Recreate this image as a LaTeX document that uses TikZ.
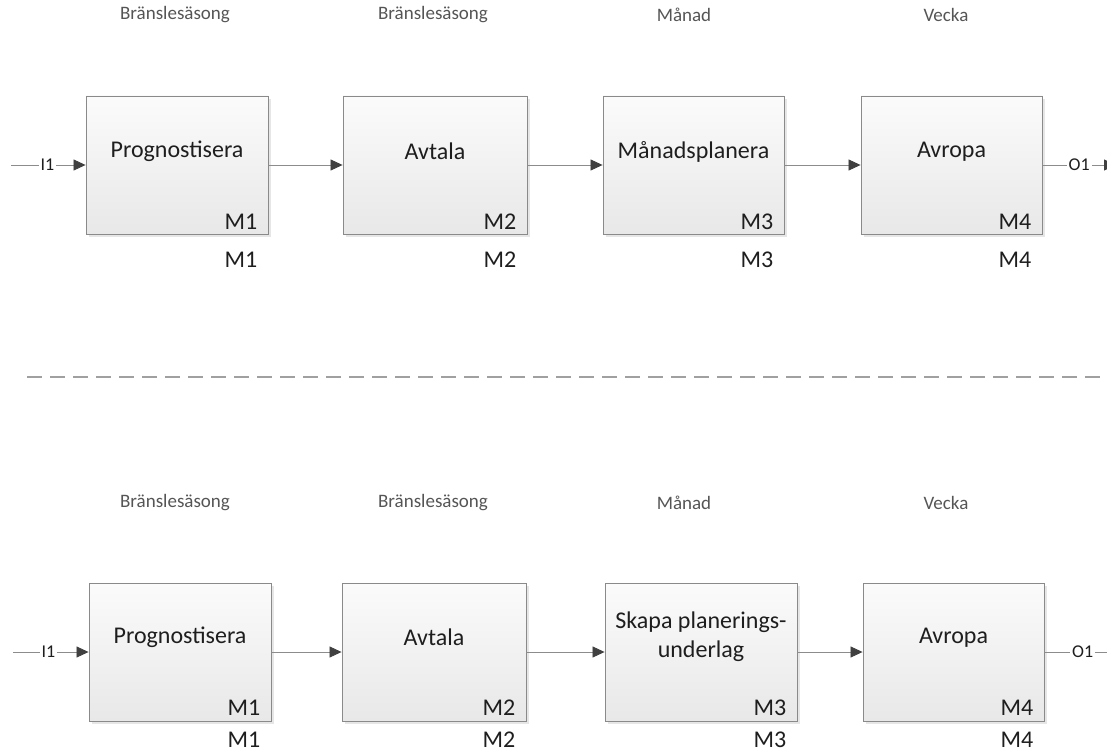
\documentclass[tikz,border=0pt]{standalone}
\usepackage{fontspec}
\setmainfont{Carlito}
\usetikzlibrary{arrows.meta,shadows,positioning}

\definecolor{boxline}{HTML}{8A8A8A}
\definecolor{boxtop}{HTML}{FBFBFB}
\definecolor{boxbottom}{HTML}{E8E8E8}
\definecolor{flowline}{HTML}{8C8C8C}
\definecolor{tipfill}{HTML}{404040}
\definecolor{headtext}{HTML}{555555}
\definecolor{maintext}{HTML}{1E1E1E}
\definecolor{sepline}{HTML}{A0A0A0}

\tikzset{
  procbox/.style={rectangle, draw=boxline, line width=0.9pt,
    top color=boxtop, bottom color=boxbottom, minimum height=138pt,
    inner sep=0pt,
    drop shadow={shadow xshift=3pt, shadow yshift=-3pt, fill=black!12, opacity=0.8}},
  proctitle/.style={font=\fontsize{24}{29}\selectfont, text=maintext, align=center, inner sep=0pt},
  mlabel/.style={font=\fontsize{24}{26}\selectfont, text=maintext, inner sep=0pt, anchor=east},
  headlabel/.style={font=\fontsize{19}{22}\selectfont, text=headtext, inner sep=0pt},
  flow/.style={draw=flowline, line width=0.8pt,
    -{Triangle[length=12pt,width=11pt,color=tipfill]}},
  plainflow/.style={draw=flowline, line width=0.8pt},
  portlabel/.style={font=\fontsize{18}{20}\selectfont, text=maintext, fill=white, inner xsep=2pt, inner ysep=1pt},
}

\begin{document}
\begin{tikzpicture}[x=1pt, y=-1pt]
  \path[use as bounding box] (0,0) rectangle (1107,754);
  \clip (0,0) rectangle (1107,754);

  % ---------- upper chain ----------
  \node[headlabel] (h1) at (175,15) {Bränslesäsong};
  \node[headlabel] (h2) at (433,15) {Bränslesäsong};
  \node[headlabel] (h3) at (684,15) {Månad};
  \node[headlabel] (h4) at (946,15) {Vecka};

  \node[procbox, minimum width=182pt] (a1) at (177,165) {};
  \node[procbox, minimum width=184pt] (a2) at (435,165) {};
  \node[procbox, minimum width=181pt] (a3) at (693.5,165) {};
  \node[procbox, minimum width=181pt] (a4) at (951.5,165) {};

  \node[proctitle] (ta1) at ([yshift=-56pt]a1.north) {Prognostisera};
  \node[proctitle] (ta2) at ([yshift=-56pt]a2.north) {Avtala};
  \node[proctitle] (ta3) at ([yshift=-56pt]a3.north) {Månadsplanera};
  \node[proctitle] (ta4) at ([yshift=-56pt]a4.north) {Avropa};

  \foreach \b/\m in {a1/M1, a2/M2, a3/M3, a4/M4} {
    \node[mlabel] (\b-in) at ([xshift=-11pt, yshift=13pt]\b.south east) {\m};
    \node[mlabel] (\b-out) at ([xshift=-11pt, yshift=-25pt]\b.south east) {\m};
  }

  \coordinate (ain) at (11,165);
  \coordinate (aout) at (1116,165);
  \draw[flow] (ain) -- node[portlabel, pos=0.49] (ai) {I1} (a1.west);
  \draw[flow] (a1.east) -- (a2.west);
  \draw[flow] (a2.east) -- (a3.west);
  \draw[flow] (a3.east) -- (a4.west);
  \draw[flow] (a4.east) -- node[portlabel, pos=0.50] (ao) {O1} (aout);

  % ---------- separator ----------
  \coordinate (sl) at (27,377);
  \coordinate (sr) at (1107,377);
  \draw[sepline, line width=1.2pt, dash pattern=on 15pt off 8pt] (sl) -- (sr);

  % ---------- lower chain ----------
  \node[headlabel] (k1) at (175,503) {Bränslesäsong};
  \node[headlabel] (k2) at (433,503) {Bränslesäsong};
  \node[headlabel] (k3) at (684,503) {Månad};
  \node[headlabel] (k4) at (946,503) {Vecka};

  \node[procbox, minimum width=182pt] (b1) at (180,652) {};
  \node[procbox, minimum width=184pt] (b2) at (434,652) {};
  \node[procbox, minimum width=192pt] (b3) at (701,652) {};
  \node[procbox, minimum width=181pt] (b4) at (953.5,652) {};

  \node[proctitle] (tb1) at ([yshift=-55pt]b1.north) {Prognostisera};
  \node[proctitle] (tb2) at ([yshift=-55pt]b2.north) {Avtala};
  \node[proctitle] (tb3) at ([yshift=-54.5pt]b3.north) {Skapa planerings-\\underlag};
  \node[proctitle] (tb4) at ([yshift=-55pt]b4.north) {Avropa};

  \foreach \b/\m in {b1/M1, b2/M2, b3/M3, b4/M4} {
    \node[mlabel] (\b-in) at ([xshift=-11pt, yshift=14pt]\b.south east) {\m};
    \node[mlabel] (\b-out) at ([xshift=-11pt, yshift=-18pt]\b.south east) {\m};
  }

  \coordinate (bin) at (13,652);
  \coordinate (bout) at (1107,652);
  \draw[flow] (bin) -- node[portlabel, pos=0.47] (bi) {I1} (b1.west);
  \draw[flow] (b1.east) -- (b2.west);
  \draw[flow] (b2.east) -- (b3.west);
  \draw[flow] (b3.east) -- (b4.west);
  \draw[plainflow] (b4.east) -- node[portlabel, pos=0.61] (bo) {O1} (bout);
\end{tikzpicture}
\end{document}
